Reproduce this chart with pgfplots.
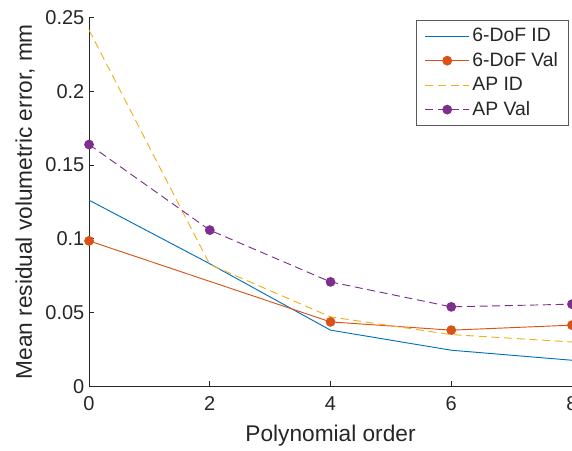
\documentclass[border=0pt]{standalone}
\usepackage{pgfplots}
\pgfplotsset{compat=1.18}
\usepackage{fontspec}
\setmainfont{Liberation Sans}
\definecolor{mblue}{rgb}{0,0.447,0.741}
\definecolor{morange}{rgb}{0.85,0.325,0.098}
\definecolor{myellow}{rgb}{0.929,0.694,0.125}
\definecolor{mpurple}{rgb}{0.494,0.184,0.556}
\definecolor{maxis}{rgb}{0.15,0.15,0.15}
\begin{document}
\begin{tikzpicture}
\begin{axis}[
  name=ax,
  scale only axis,
  width=362pt, height=276.5pt,
  xmin=0, xmax=8, ymin=0, ymax=0.25,
  axis lines*=left,
  axis line style={maxis, line width=0.5pt},
  tick align=inside,
  major tick length=4pt,
  tick style={maxis, line width=0.5pt},
  xtick={0,2,4,6,8},
  xticklabels={0,2,4,6,8},
  ytick={0,0.05,0.1,0.15,0.2,0.25},
  yticklabels={0,0.05,0.1,0.15,0.2,0.25},
  scaled y ticks=false,
  ticklabel style={font=\fontsize{15}{18}\selectfont, text=maxis},
  xticklabel style={yshift=-4pt},
  xlabel={Polynomial order},
  ylabel={Mean residual volumetric error, mm},
  label style={font=\fontsize{17}{20}\selectfont, text=maxis},
  xlabel style={at={(axis description cs:0.5,0)}, anchor=center, yshift=-36.75pt},
  ylabel style={at={(axis description cs:0,0.5)}, anchor=center, rotate=0, yshift=48pt},
  clip=false,
  legend style={at={(1,1)}, anchor=north east, xshift=-2.25pt, yshift=-2pt,
    draw=black!65, line width=0.5pt, fill=white,
    font=\fontsize{14.5}{17}\selectfont, text=maxis,
    row sep=2.6pt, inner xsep=6pt, inner ysep=4pt},
  legend cell align=left,
  legend image code/.code={\draw[mark repeat=2,mark phase=2,#1] plot coordinates {(0pt,0pt) (16.5pt,0pt) (33pt,0pt)};},
]
\addplot[mblue, line width=0.7pt] coordinates {(0,0.1261) (2,0.0830) (4,0.0380) (6,0.0244) (8,0.0176)};
\addlegendentry{6-DoF ID}
\addplot[morange, line width=0.7pt, mark=*, mark size=3.3pt, mark options={solid, fill=morange, draw=morange}] coordinates {(0,0.0985) (4,0.0436) (6,0.0380) (8,0.0414)};
\addlegendentry{6-DoF Val}
\addplot[myellow, line width=0.7pt, dash pattern=on 6pt off 3.5pt] coordinates {(0,0.2414) (2,0.0825) (4,0.0470) (6,0.0350) (8,0.0300)};
\addlegendentry{AP ID}
\addplot[mpurple, line width=0.7pt, dash pattern=on 6pt off 3.5pt, mark=*, mark size=3.3pt, mark options={solid, fill=mpurple, draw=mpurple}] coordinates {(0,0.1638) (2,0.1058) (4,0.0707) (6,0.0538) (8,0.0556)};
\addlegendentry{AP Val}
\end{axis}
\pgfresetboundingbox
\path[use as bounding box] ([xshift=-66.75pt,yshift=-48pt]ax.south west) rectangle ([yshift=13pt]ax.north east);
\end{tikzpicture}
\end{document}
